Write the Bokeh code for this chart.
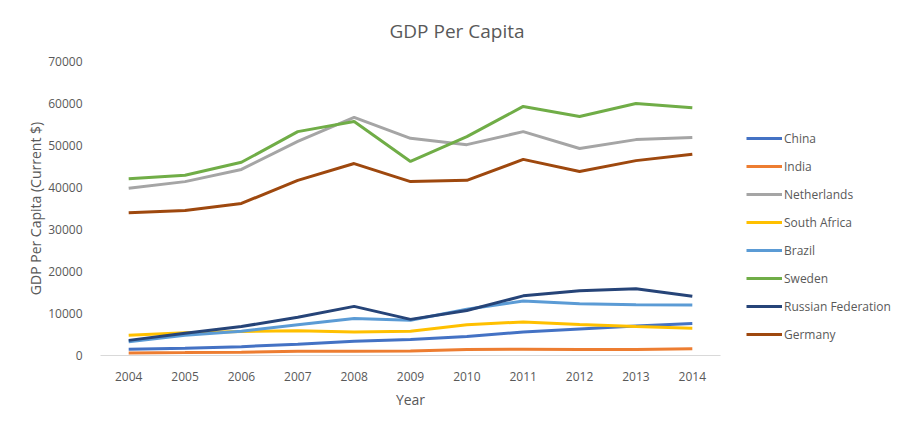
from bokeh.plotting import figure
from bokeh.models import Range1d, FixedTicker, Legend, LegendItem
from bokeh.embed import file_html
from bokeh.resources import INLINE

years = [2004, 2005, 2006, 2007, 2008, 2009, 2010, 2011, 2012, 2013, 2014]
china = [1500, 1750, 2100, 2700, 3400, 3800, 4500, 5600, 6300, 7000, 7600]
india = [620, 700, 800, 1000, 1000, 1100, 1400, 1500, 1450, 1450, 1600]
netherlands = [39800, 41400, 44300, 51000, 56700, 51700, 50200, 53300, 49300, 51400, 51900]
south_africa = [4800, 5400, 5700, 5900, 5600, 5800, 7300, 8000, 7400, 6900, 6500]
brazil = [3300, 4800, 5800, 7300, 8800, 8400, 11000, 13000, 12300, 12100, 12000]
sweden = [42100, 42900, 46000, 53300, 55700, 46200, 52100, 59300, 56900, 60000, 59000]
russia = [3600, 5300, 6900, 9100, 11700, 8600, 10700, 14200, 15400, 15900, 14100]
germany = [34000, 34500, 36200, 41700, 45700, 41400, 41700, 46700, 43800, 46400, 47900]

series_names = ["China", "India", "Netherlands", "South Africa", "Brazil",
                "Sweden", "Russian Federation", "Germany"]
series_values = [china, india, netherlands, south_africa, brazil, sweden, russia, germany]
colors = ["#4472C4", "#ED7D31", "#A5A5A5", "#FFC000", "#5B9BD5", "#70AD47", "#264478", "#9E480E"]
y_ticks = [0, 10000, 20000, 30000, 40000, 50000, 60000, 70000]

FONT = "Open Sans"
TXT = "#595959"

p = figure(frame_width=620, frame_height=294, output_backend="svg", toolbar_location=None,
           x_range=Range1d(2003.5, 2014.5), y_range=Range1d(0, 70000),
           min_border_left=100, min_border_right=189, min_border_top=61, min_border_bottom=67)
p.title.text = "GDP Per Capita"
p.title.align = "left"
p.title.offset = 289
p.title.standoff = 32
p.title.vertical_align = "top"
p.title.text_font = FONT
p.title.text_color = TXT
p.title.text_font_size = "19px"
p.title.text_font_style = "normal"
p.outline_line_color = None
p.xgrid.visible = False
p.ygrid.visible = False

p.xaxis.ticker = FixedTicker(ticks=years)
p.yaxis.ticker = FixedTicker(ticks=y_ticks)
p.yaxis.formatter.use_scientific = False
for ax in (p.xaxis[0], p.yaxis[0]):
    ax.major_tick_line_color = None
    ax.minor_tick_line_color = None
    ax.major_label_text_font = FONT
    ax.major_label_text_color = TXT
    ax.major_label_text_font_size = "12px"
    ax.axis_label_text_font = FONT
    ax.axis_label_text_color = TXT
    ax.axis_label_text_font_size = "14px"
    ax.axis_label_text_font_style = "normal"
p.xaxis.axis_line_color = "#D9D9D9"
p.yaxis.axis_line_color = None
p.xaxis.axis_label = "Year"
p.yaxis.axis_label = "GDP Per Capita (Current $)"
p.xaxis.major_label_standoff = 10
p.yaxis.major_label_standoff = 12
p.xaxis.axis_label_standoff = 6
p.yaxis.axis_label_standoff = 0

items = []
for name, vals, c in zip(series_names, series_values, colors):
    r = p.line(years, vals, line_color=c, line_width=3)
    items.append(LegendItem(label=name, renderers=[r]))

legend = Legend(items=items, location=(26, 11), orientation="vertical",
                glyph_width=36, glyph_height=20, label_height=20, spacing=8,
                padding=0, margin=0, label_standoff=2,
                border_line_color=None, background_fill_alpha=0,
                label_text_font=FONT, label_text_color=TXT, label_text_font_size="12px")
p.add_layout(legend, "right")

open("out.html", "w").write(file_html(p, INLINE))
